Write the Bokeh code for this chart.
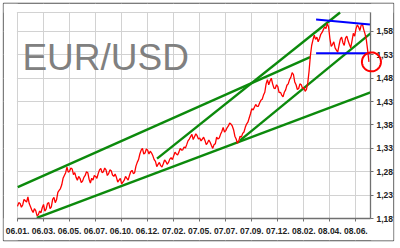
import numpy as np
from bokeh.plotting import figure
from bokeh.models import (Range1d, FixedTicker, CustomJSTickFormatter, Label,
                          PolyAnnotation, BoxAnnotation)
from bokeh.embed import file_html
from bokeh.resources import INLINE

# ---------------- data ----------------
month_labels = ["06.01.", "06.03.", "06.05.", "06.07.", "06.10.", "06.12.", "07.02.",
                "07.05.", "07.07.", "07.09.", "07.12.", "08.02.", "08.04.", "08.06."]
y_ticks = [1.18, 1.23, 1.28, 1.33, 1.38, 1.43, 1.48, 1.53, 1.58]

# EUR/USD rate, sampled every 0.05 label-step from the first label
eurusd = [
    1.206, 1.214, 1.212, 1.204, 1.209, 1.221, 1.218, 1.215, 1.226, 1.212,
    1.205, 1.198, 1.193, 1.201, 1.197, 1.186, 1.188, 1.196, 1.192, 1.203,
    1.210, 1.196, 1.200, 1.212, 1.214, 1.201, 1.205, 1.221, 1.225, 1.214,
    1.220, 1.236, 1.240, 1.244, 1.252, 1.266, 1.272, 1.278, 1.290, 1.279,
    1.281, 1.288, 1.286, 1.274, 1.278, 1.268, 1.262, 1.270, 1.266, 1.257,
    1.260, 1.268, 1.272, 1.280, 1.278, 1.264, 1.256, 1.266, 1.262, 1.272,
    1.270, 1.266, 1.276, 1.284, 1.287, 1.278, 1.280, 1.288, 1.284, 1.272,
    1.276, 1.284, 1.282, 1.273, 1.270, 1.275, 1.268, 1.258, 1.262, 1.266,
    1.254, 1.258, 1.262, 1.270, 1.266, 1.262, 1.272, 1.280, 1.283, 1.276,
    1.278, 1.292, 1.300, 1.306, 1.318, 1.326, 1.330, 1.318, 1.320, 1.329,
    1.326, 1.318, 1.324, 1.320, 1.314, 1.306, 1.302, 1.291, 1.296, 1.300,
    1.293, 1.290, 1.297, 1.305, 1.302, 1.296, 1.300, 1.307, 1.310, 1.306,
    1.314, 1.322, 1.318, 1.316, 1.322, 1.330, 1.326, 1.327, 1.333, 1.331,
    1.338, 1.346, 1.350, 1.355, 1.360, 1.349, 1.355, 1.361, 1.357, 1.350,
    1.352, 1.346, 1.350, 1.354, 1.347, 1.338, 1.342, 1.348, 1.343, 1.336,
    1.330, 1.338, 1.340, 1.354, 1.350, 1.352, 1.360, 1.366, 1.375, 1.365,
    1.368, 1.374, 1.378, 1.384, 1.382, 1.378, 1.370, 1.356, 1.350, 1.341,
    1.346, 1.356, 1.354, 1.362, 1.365, 1.375, 1.382, 1.386, 1.395, 1.404,
    1.415, 1.412, 1.418, 1.424, 1.420, 1.420, 1.427, 1.433, 1.435, 1.444,
    1.450, 1.468, 1.477, 1.466, 1.474, 1.480, 1.468, 1.459, 1.458, 1.466,
    1.462, 1.449, 1.450, 1.444, 1.440, 1.450, 1.455, 1.465, 1.468, 1.477,
    1.482, 1.492, 1.488, 1.472, 1.466, 1.456, 1.458, 1.468, 1.466, 1.458,
    1.460, 1.452, 1.456, 1.470, 1.495, 1.528, 1.550, 1.562, 1.572, 1.563,
    1.568, 1.558, 1.565, 1.574, 1.578, 1.584, 1.590, 1.586, 1.597, 1.590,
    1.565, 1.548, 1.552, 1.558, 1.545, 1.540, 1.536, 1.550, 1.563, 1.568,
    1.556, 1.550, 1.566, 1.570, 1.560, 1.552, 1.545, 1.560, 1.576, 1.570,
    1.585, 1.594, 1.590, 1.582, 1.593, 1.596, 1.584, 1.575, 1.562, 1.540,
    1.515,
]
sample_step = 0.05

# trend lines (x in label-steps, y in rate)
green_1_x = [0.01, 11.24]
green_1_y = [1.247, 1.525]
green_2_x = [0.74, 13.56]
green_2_y = [1.1815, 1.4495]
green_3_x = [5.36, 12.39]
green_3_y = [1.308, 1.6206]
green_4_x = [8.55, 13.56]
green_4_y = [1.347, 1.576]
blue_top_x = [11.47, 13.54]
blue_top_y = [1.6057, 1.595]
blue_bottom_x = [11.47, 13.54]
blue_bottom_y = [1.5336, 1.5336]

title_text = "EUR/USD"

# ---------------- layout ----------------
W, H = 400, 248
X_MAX = 13.56                 # right end of chart area (label steps)
Y_MIN, Y_MAX = 1.18, 1.6206   # chart area value range
# chart area in canvas pixels
CL, CR, CT, CB = 17, 370, 12, 218
# outer frame in canvas pixels
FL, FR, FT, FB = 3, 393, 3, 240

ppx = (CR - CL) / X_MAX
ppy = (CB - CT) / (Y_MAX - Y_MIN)
xr = Range1d(-(CL - FL) / ppx, X_MAX + (FR - CR) / ppx)
yr = Range1d(Y_MIN - (FB - CB) / ppy, Y_MAX + (CT - FT) / ppy)

p = figure(width=W, height=H, output_backend="svg", toolbar_location=None,
           x_range=xr, y_range=yr,
           x_axis_location="below", y_axis_location="right",
           min_border_left=FL, min_border_right=W - FR, min_border_top=FT,
           min_border_bottom=H - FB, background_fill_color="white",
           border_fill_color="white")
p.outline_line_color = "#505050"
p.outline_line_width = 1.3

grid_col = "#d2d2d2"
p.xgrid.grid_line_color = grid_col
p.ygrid.grid_line_color = grid_col
p.ygrid.ticker = FixedTicker(ticks=y_ticks + [Y_MAX])

xa = p.xaxis[0]
xa.ticker = FixedTicker(ticks=list(range(len(month_labels))))
xa.major_label_overrides = {i: s for i, s in enumerate(month_labels)}
xa.fixed_location = Y_MIN
xa.bounds = (0, X_MAX)
ya = p.yaxis[0]
ya.ticker = FixedTicker(ticks=y_ticks)
ya.formatter = CustomJSTickFormatter(code="return tick.toFixed(2).replace('.', ',')")
ya.fixed_location = X_MAX
ya.bounds = (Y_MIN, Y_MAX)
for ax in (xa, ya):
    ax.axis_line_color = "#707070"
    ax.axis_line_width = 1.3
    ax.major_tick_line_color = "#707070"
    ax.major_tick_in = 0
    ax.major_tick_out = 3
    ax.minor_tick_line_color = None
    ax.major_label_text_font = "Liberation Sans"
    ax.major_label_text_font_style = "bold"
    ax.major_label_text_font_size = "8.5px"
    ax.major_label_text_color = "#222222"
xa.major_label_standoff = 6
ya.major_label_standoff = 3

# white masks hiding grid lines outside the chart area
half = 0.6
for kw in [dict(right=0 - half / ppx), dict(left=X_MAX + half / ppx),
           dict(top=Y_MIN - half / ppy), dict(bottom=Y_MAX + half / ppy)]:
    p.add_layout(BoxAnnotation(fill_color="white", fill_alpha=1, line_color=None,
                               level="underlay", **kw))

# title text
p.add_layout(Label(x=0.19, y=1.525, text=title_text, text_font="Liberation Sans",
                   text_font_size="37px", text_color="#808080",
                   text_baseline="alphabetic"))

green = "#0c8a0c"
for gx, gy in [(green_1_x, green_1_y), (green_2_x, green_2_y),
               (green_3_x, green_3_y), (green_4_x, green_4_y)]:
    p.line(gx, gy, line_color=green, line_width=2.4)

xs = np.arange(len(eurusd)) * sample_step
p.line(xs, eurusd, line_color="#ff0000", line_width=1.3)

for bx, by in [(blue_top_x, blue_top_y), (blue_bottom_x, blue_bottom_y)]:
    p.line(bx, by, line_color="#0000ff", line_width=2)

# red circle around the last quote
r_px = 9.5
ang = np.linspace(0, 2 * np.pi, 60)
cx, cy = xs[-1] + 2.5 / ppx, eurusd[-1]
p.add_layout(PolyAnnotation(xs=list(cx + r_px / ppx * np.cos(ang)),
                            ys=list(cy + r_px / ppy * np.sin(ang)),
                            fill_color=None, fill_alpha=0, line_color="#ff0000",
                            line_alpha=1, line_width=2))

open("out.html", "w").write(file_html(p, INLINE))
